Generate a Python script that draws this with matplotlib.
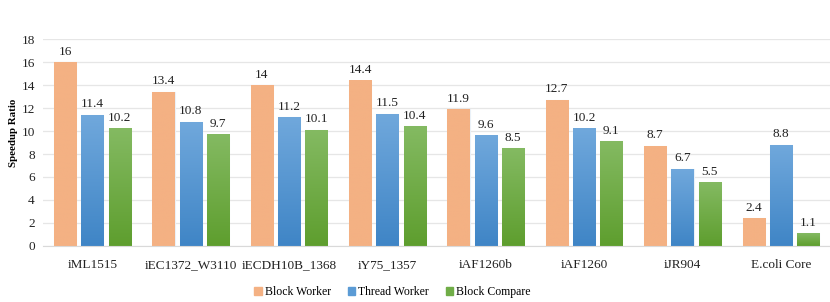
import numpy as np
import matplotlib.pyplot as plt
from matplotlib import font_manager
from matplotlib.colors import LinearSegmentedColormap
from matplotlib.patches import Patch

# buscar una fuente serif tipo Times entre las instaladas
nombres = set(f.name for f in font_manager.fontManager.ttflist)
fuente = 'DejaVu Serif'
for n in ['Liberation Serif', 'Times New Roman', 'Nimbus Roman', 'Noto Serif', 'DejaVu Serif']:
    if n in nombres:
        fuente = n
        break
plt.rcParams['font.family'] = [fuente, 'DejaVu Sans']

modelos = ['iML1515', 'iEC1372_W3110', 'iECDH10B_1368', 'iY75_1357',
           'iAF1260b', 'iAF1260', 'iJR904', 'E.coli Core']
block_worker = [16, 13.4, 14, 14.4, 11.9, 12.7, 8.7, 2.4]
thread_worker = [11.4, 10.8, 11.2, 11.5, 9.6, 10.2, 6.7, 8.8]
block_compare = [10.2, 9.7, 10.1, 10.4, 8.5, 9.1, 5.5, 1.1]

series = ['Block Worker', 'Thread Worker', 'Block Compare']
colores = ['#F4B183', '#5B9BD5', '#70AD47']
# gradiente (abajo, arriba) de cada serie
gradientes = [('#F4B183', '#F4B183'),
              ('#3F85C6', '#70A8DC'),
              ('#5E9E2E', '#84BA62')]

fig = plt.figure(figsize=(8.3, 3.02), dpi=100)
ax = fig.add_axes([0.052, 0.186, 0.948, 0.684])

x = np.arange(len(modelos))
ancho = 0.225
paso = 0.277
grad = np.linspace(0, 1, 256).reshape(-1, 1)

for k, valores in enumerate([block_worker, thread_worker, block_compare]):
    barras = ax.bar(x + (k - 1) * paso, valores, ancho, color=colores[k],
                    edgecolor='#EAF1F8', linewidth=0.8, zorder=2)
    cmap = LinearSegmentedColormap.from_list('g%d' % k, gradientes[k])
    for b, v in zip(barras, valores):
        x0, w, h = b.get_x(), b.get_width(), b.get_height()
        ax.imshow(grad, cmap=cmap, origin='lower', aspect='auto',
                  extent=(x0, x0 + w, 0, h), zorder=2.5)
        ax.text(x0 + w / 2, h + 0.4, '%g' % v, ha='center', va='bottom',
                fontsize=9.5, color='#222222')

ax.set_xlim(-0.5, len(modelos) - 0.5)
ax.set_ylim(0, 18)
ax.set_yticks(range(0, 19, 2))
ax.set_xticks(x)
ax.set_xticklabels(modelos, fontsize=9.5)
ax.tick_params(axis='y', labelsize=9.5, length=0, pad=6, colors='#222222')
ax.tick_params(axis='x', length=0, pad=9.5, colors='#222222')
ax.grid(axis='y', color='#E6E6E6', linewidth=0.9, zorder=0)
for lado in ['top', 'right', 'left']:
    ax.spines[lado].set_visible(False)
ax.spines['bottom'].set_color('#D9D9D9')
ax.set_ylabel('Speedup Ratio', fontsize=7.8, fontweight='bold')
ax.yaxis.set_label_coords(-0.032, 0.545)

handles = [Patch(color=c) for c in colores]
fig.legend(handles, series, loc='center', ncol=3, frameon=False,
           fontsize=8.5, bbox_to_anchor=(0.473, 0.033), handlelength=0.6,
           handleheight=0.6, handletextpad=0.3, columnspacing=1.4)

fig.savefig('out.png', dpi=100)
